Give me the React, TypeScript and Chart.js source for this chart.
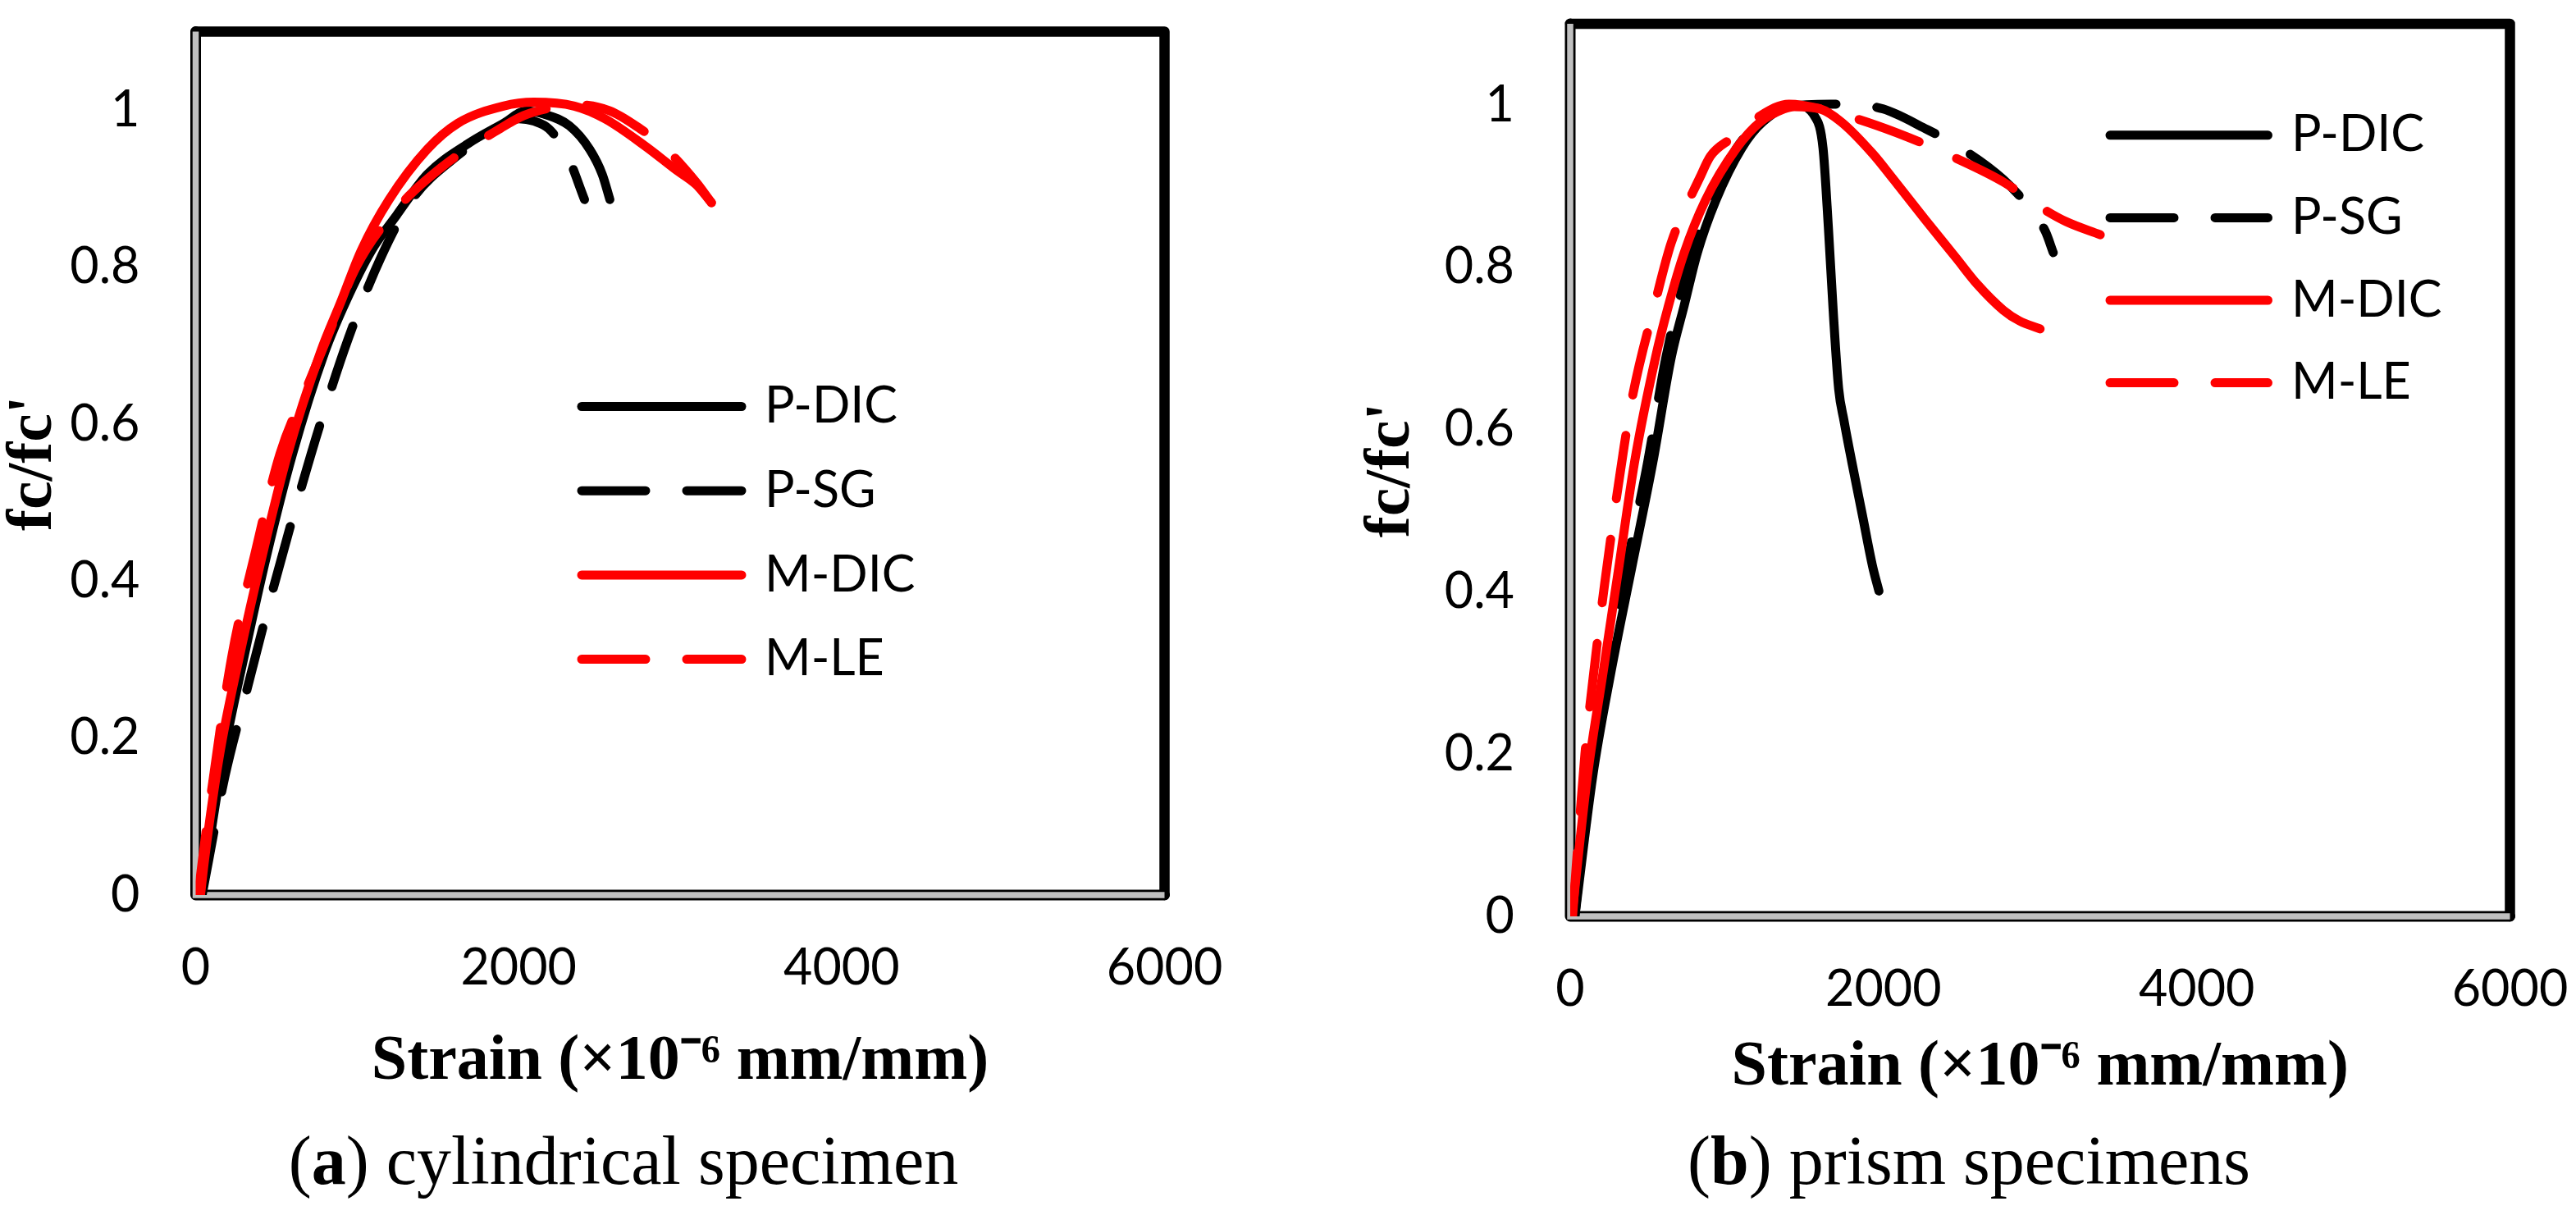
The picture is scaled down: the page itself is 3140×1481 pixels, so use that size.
import { useEffect, useRef } from 'react';
import Chart from 'chart.js/auto';

type Pt = [number, number]; // [strain ×10^-6, fc/fc']

// (a) cylindrical specimen
const CYL_P_DIC: Pt[] = [[35, 0], [170, 0.175], [300, 0.304], [440, 0.433], [600, 0.562], [800, 0.692], [930, 0.756], [1089, 0.821], [1244, 0.866], [1434, 0.918], [1685, 0.957], [1905, 0.983], [2047, 0.999], [2157, 0.995], [2314, 0.98], [2440, 0.95], [2518, 0.918], [2565, 0.886]];
const CYL_P_SG: Pt[] = [[40, 0], [180, 0.15], [318, 0.262], [460, 0.375], [607, 0.485], [768, 0.598], [947, 0.71], [1151, 0.814], [1340, 0.886], [1591, 0.937], [1843, 0.973], [2000, 0.989], [2094, 0.986], [2188, 0.976], [2298, 0.944], [2408, 0.886]];
const CYL_M_DIC: Pt[] = [[30, 0], [55, 0.045], [145, 0.175], [271, 0.304], [413, 0.433], [570, 0.562], [774, 0.692], [900, 0.756], [1025, 0.821], [1198, 0.886], [1434, 0.95], [1622, 0.983], [1905, 1.005], [2094, 1.01], [2345, 1.005], [2534, 0.989], [2785, 0.954], [2974, 0.924], [3100, 0.905], [3194, 0.882]];
const CYL_M_LE: Pt[] = [[15, 0], [83, 0.11], [224, 0.304], [365, 0.433], [522, 0.562], [695, 0.65], [805, 0.705], [994, 0.8], [1250, 0.875], [1528, 0.928], [1890, 0.977], [2031, 0.993], [2200, 1.003], [2345, 1.007], [2565, 0.999], [2754, 0.976], [2895, 0.954], [3100, 0.908], [3194, 0.882]];

// (b) prism specimens
const PRI_P_DIC: Pt[] = [[30, 0], [144, 0.173], [261, 0.302], [394, 0.431], [528, 0.56], [645, 0.689], [728, 0.753], [812, 0.818], [929, 0.882], [1096, 0.947], [1229, 0.979], [1430, 1.0], [1564, 0.985], [1614, 0.947], [1648, 0.85], [1681, 0.74], [1714, 0.65], [1748, 0.611], [1798, 0.56], [1865, 0.495], [1931, 0.431], [1971, 0.401]];
const PRI_P_SG: Pt[] = [[30, 0], [127, 0.173], [244, 0.302], [361, 0.431], [495, 0.56], [611, 0.689], [779, 0.818], [896, 0.882], [1063, 0.947], [1213, 0.979], [1397, 0.998], [1664, 1.001], [1764, 1.001], [1998, 0.995], [2265, 0.971], [2466, 0.95], [2766, 0.908], [2933, 0.873], [3034, 0.844], [3084, 0.818]];
const PRI_M_DIC: Pt[] = [[10, 0], [110, 0.173], [211, 0.302], [311, 0.431], [411, 0.56], [545, 0.689], [628, 0.753], [728, 0.818], [862, 0.882], [1063, 0.947], [1213, 0.979], [1363, 0.995], [1430, 0.998], [1597, 0.995], [1731, 0.979], [1931, 0.94], [2065, 0.908], [2265, 0.859], [2466, 0.811], [2599, 0.779], [2766, 0.747], [2867, 0.734], [3000, 0.724]];
const PRI_M_LE: Pt[] = [[15, 0], [94, 0.2], [150, 0.3], [220, 0.41], [344, 0.579], [401, 0.644], [538, 0.753], [645, 0.83], [829, 0.911], [896, 0.937], [1030, 0.959], [1200, 0.985], [1397, 1.001], [1664, 0.992], [2081, 0.966], [2466, 0.934], [2766, 0.905], [3018, 0.872], [3168, 0.856], [3384, 0.84]];

const SERIES_LABELS = ['P-DIC', 'P-SG', 'M-DIC', 'M-LE'];
const SERIES_COLORS = ['#000000', '#000000', '#ff0000', '#ff0000'];
const SERIES_DASHED = [false, true, false, true];

const X_TICKS = [0, 2000, 4000, 6000];
const Y_TICKS = [0, 0.2, 0.4, 0.6, 0.8, 1];

const TICK_FONT = { family: 'Lato, sans-serif', size: 61, lineHeight: 1 };
const TITLE_FONT = { family: '"Liberation Serif", serif', size: 78, weight: 'bold' as const, lineHeight: 1 };

const CANVAS_W = 1570;
const CANVAS_H = 1360;

// excel-ish plot frame: heavy black top/right, grey left/bottom axes with black outline
const framePlugin = {
  id: 'frame',
  beforeDatasetsDraw(chart: Chart) {
    const { ctx, chartArea } = chart;
    const { left, top, right, bottom } = chartArea;
    ctx.save();
    ctx.setLineDash([]);
    ctx.strokeStyle = '#000';
    ctx.lineWidth = 12.5;
    ctx.lineJoin = 'round';
    ctx.lineCap = 'round';
    ctx.beginPath();
    ctx.moveTo(left, top);
    ctx.lineTo(right, top);
    ctx.lineTo(right, bottom);
    ctx.stroke();

    ctx.lineWidth = 13;
    ctx.beginPath();
    ctx.moveTo(left, top);
    ctx.lineTo(left, bottom);
    ctx.lineTo(right, bottom);
    ctx.stroke();

    ctx.strokeStyle = '#c0c0c0';
    ctx.lineWidth = 7.5;
    ctx.lineCap = 'butt';
    ctx.lineJoin = 'miter';
    ctx.beginPath();
    ctx.moveTo(left, top);
    ctx.lineTo(left, bottom);
    ctx.lineTo(right, bottom);
    ctx.stroke();
    ctx.restore();
  },
};

interface KeySpot {
  dx: number;
  dy: number;
  gap: number;
  len: number;
  textGap: number;
}

function makeKeyPlugin(at: KeySpot) {
  return {
    id: 'seriesKey',
    afterDatasetsDraw(chart: Chart) {
      const { ctx, chartArea } = chart;
      ctx.save();
      ctx.font = `${TICK_FONT.size}px ${TICK_FONT.family}`;
      ctx.textBaseline = 'middle';
      ctx.textAlign = 'left';
      ctx.fillStyle = '#000';
      chart.data.datasets.forEach((ds: any, i: number) => {
        const x0 = chartArea.left + at.dx;
        const y = chartArea.top + at.dy + i * at.gap;
        ctx.strokeStyle = ds.borderColor;
        ctx.lineWidth = ds.borderWidth;
        ctx.lineCap = 'round';
        ctx.setLineDash(ds.borderDash || []);
        ctx.beginPath();
        ctx.moveTo(x0, y);
        ctx.lineTo(x0 + at.len, y);
        ctx.stroke();
        ctx.setLineDash([]);
        ctx.fillText(ds.label, x0 + at.len + at.textGap, y);
      });
      ctx.restore();
    },
  };
}

interface PanelProps {
  series: Pt[][];
  pageLeft: number;
  area: { left: number; top: number; right: number; bottom: number };
  axisH: number;
  yTitleInset: number;
  keySpot: KeySpot;
}

function Panel({ series, pageLeft, area, axisH, yTitleInset, keySpot }: PanelProps) {
  const canvasRef = useRef<HTMLCanvasElement>(null);
  const chartRef = useRef<Chart | null>(null);

  useEffect(() => {
    if (!canvasRef.current) return;
    if (chartRef.current) chartRef.current.destroy();

    const zeroPad = (s: any) => {
      s.paddingLeft = 0;
      s.paddingRight = 0;
      s.paddingTop = 0;
      s.paddingBottom = 0;
    };

    chartRef.current = new Chart(canvasRef.current, {
      type: 'line',
      data: {
        datasets: series.map((pts, i) => ({
          label: SERIES_LABELS[i],
          data: pts.map(([x, y]) => ({ x, y })),
          borderColor: SERIES_COLORS[i],
          backgroundColor: SERIES_COLORS[i],
          borderWidth: 11,
          borderDash: SERIES_DASHED[i] ? [78, 50] : [],
          borderCapStyle: 'round',
          borderJoinStyle: 'round',
          pointRadius: 0,
          cubicInterpolationMode: 'monotone',
          fill: false,
          order: SERIES_COLORS[i] === '#ff0000' ? 1 : 2,
        })),
      },
      options: {
        responsive: false,
        animation: false,
        events: [],
        layout: {
          padding: {
            left: 0,
            top: area.top,
            right: CANVAS_W - area.right,
            bottom: CANVAS_H - area.bottom - axisH,
          },
        },
        plugins: {
          legend: { display: false },
          tooltip: { enabled: false },
        },
        scales: {
          x: {
            type: 'linear',
            min: 0,
            max: 6000,
            afterBuildTicks: (s: any) => {
              s.ticks = X_TICKS.map((value) => ({ value }));
            },
            afterFit: (s: any) => {
              s.height = axisH;
              zeroPad(s);
            },
            grid: { display: false, drawTicks: false },
            border: { display: false },
            ticks: {
              font: TICK_FONT,
              color: '#000',
              padding: 59,
              maxRotation: 0,
              autoSkip: false,
              callback: (v: any) => String(v),
            },
            title: {
              display: true,
              text: 'Strain (×10⁻⁶ mm/mm)',
              font: TITLE_FONT,
              color: '#000',
              padding: { top: 0, bottom: 0 },
            },
          },
          y: {
            type: 'linear',
            min: 0,
            max: 1.1,
            afterBuildTicks: (s: any) => {
              s.ticks = Y_TICKS.map((value) => ({ value }));
            },
            afterFit: (s: any) => {
              s.width = area.left;
              zeroPad(s);
            },
            grid: { display: false, drawTicks: false },
            border: { display: false },
            ticks: {
              font: TICK_FONT,
              color: '#000',
              padding: 68,
              callback: (v: any) => String(Math.round(v * 10) / 10),
            },
            title: {
              display: true,
              text: "fc/fc'",
              font: TITLE_FONT,
              color: '#000',
              padding: { top: yTitleInset, bottom: 0 },
            },
          },
        },
      } as any,
      plugins: [framePlugin, makeKeyPlugin(keySpot)],
    });

    return () => {
      chartRef.current?.destroy();
      chartRef.current = null;
    };
  }, [series, area, axisH, yTitleInset, keySpot]);

  return (
    <div style={{ position: 'absolute', left: pageLeft, top: 0, width: CANVAS_W, height: CANVAS_H }}>
      <canvas ref={canvasRef} width={CANVAS_W} height={CANVAS_H} style={{ display: 'block' }} />
    </div>
  );
}

const captionStyle = (cx: number): React.CSSProperties => ({
  position: 'absolute',
  left: cx - 600,
  width: 1200,
  top: 1373,
  textAlign: 'center',
  font: '84px/1 "Liberation Serif", serif',
  color: '#000',
  whiteSpace: 'nowrap',
});

const CYL_SERIES = [CYL_P_DIC, CYL_P_SG, CYL_M_DIC, CYL_M_LE];
const PRI_SERIES = [PRI_P_DIC, PRI_P_SG, PRI_M_DIC, PRI_M_LE];
const CYL_AREA = { left: 238.5, top: 38.5, right: 1419.5, bottom: 1091 };
const PRI_AREA = { left: 344, top: 29, right: 1489.5, bottom: 1117 };
const CYL_KEY = { dx: 470.5, dy: 457, gap: 102.7, len: 195, textGap: 28 };
const PRI_KEY = { dx: 658, dy: 135.8, gap: 100.6, len: 192.5, textGap: 28.5 };

export default function App() {
  return (
    <div style={{ position: 'absolute', left: 0, top: 0, width: 3140, height: 1481, background: '#fff', overflow: 'hidden' }}>
      <Panel series={CYL_SERIES} pageLeft={0} area={CYL_AREA} axisH={243} yTitleInset={2.5} keySpot={CYL_KEY} />
      <Panel series={PRI_SERIES} pageLeft={1570} area={PRI_AREA} axisH={224} yTitleInset={88} keySpot={PRI_KEY} />
      <div style={captionStyle(760)}>
        (<b>a</b>) cylindrical specimen
      </div>
      <div style={captionStyle(2400)}>
        (<b>b</b>) prism specimens
      </div>
    </div>
  );
}
